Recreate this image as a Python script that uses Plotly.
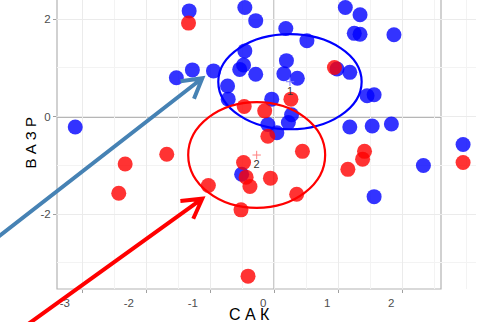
import math
import plotly.graph_objects as go

# ---------------- data ----------------
blue_x = [-1.33, -1.53, -1.28, -0.95, -0.46, -0.29, 0.18, 0.51, -0.46, -0.48, -0.54, -0.29, -0.73, -0.72,
          0.19, 0.15, 0.36, -0.04, 0.98, 1.18, 1.11, 1.34, 1.25, 1.34, 1.87, 1.45, 1.56, -3.11, 0.27,
          0.22, -0.10, 0.04, 1.18, 1.53, 1.83, 2.33, 1.56, 2.95, -0.51]
blue_y = [2.17, 0.80, 0.96, 0.94, 2.24, 1.97, 1.81, 1.56, 1.35, 1.06, 0.97, 0.87, 0.63, 0.36,
          1.15, 0.88, 0.79, 0.36, 0.98, 0.91, 2.24, 2.09, 1.71, 1.69, 1.68, 0.43, 0.45, -0.21, 0.04,
          -0.12, -0.16, -0.33, -0.21, -0.19, -0.15, -1.00, -1.64, -0.57, -1.18]
red_x = [-1.34, 0.94, 0.26, -0.47, -0.15, -0.10, -2.33, -1.68, -2.43, -1.03, 0.44, -0.48, -0.44, -0.38,
         -0.06, 0.35, -0.52, -0.41, 1.41, 1.38, 1.15, 2.95]
red_y = [1.92, 1.01, 0.36, 0.21, 0.12, -0.40, -0.97, -0.77, -1.57, -1.41, -0.71, -0.94, -1.24, -1.43,
         -1.26, -1.59, -1.91, -3.27, -0.71, -0.87, -1.08, -0.94]

cluster_labels = ["1", "2"]
cluster_cx = [0.245, -0.275]
cluster_cy = [0.718, -0.786]
cluster_rx = [1.12, 1.07]
cluster_ry = [0.975, 1.085]

x_ticks = [-3, -2, -1, 0, 1, 2]
y_ticks = [-2, 0, 2]
x_title = "С А К"
y_title = "В А З Р"

# arrows (tip and tail in data units)
arrow_blue = {"tip": (-1.125, 0.788), "tail": (-4.52, -2.677)}
arrow_red = {"tip": (-1.125, -1.682), "tail": (-3.975, -4.375)}

# ---------------- layout geometry ----------------
W, H = 481, 322
ML, MR, MT, MB = 57, 5, 0, 33
PW, PH = W - ML - MR, H - MT - MB
PX_PER_X = 64.0
X_LEFT = -3.395
X_PANEL_RIGHT = 2.605
XR = [X_LEFT, X_LEFT + PW / PX_PER_X]
YR = [-3.534, 2.394]
PANEL_R = (X_PANEL_RIGHT - XR[0]) / (XR[1] - XR[0])   # panel right edge in paper units


def to_px(x, y):
    px = (x - XR[0]) / (XR[1] - XR[0]) * PW
    py = (YR[1] - y) / (YR[1] - YR[0]) * PH
    return px, py


def px_to_paper(px, py):
    return px / PW, 1 - py / PH


def arrow_path(a):
    tx, ty = to_px(*a["tip"])
    sx, sy = to_px(*a["tail"])
    dx, dy = sx - tx, sy - ty
    L = math.hypot(dx, dy)
    ux, uy = dx / L, dy / L
    arms = []
    for s in (1, -1):
        c, sn = math.cos(math.radians(30)), math.sin(math.radians(30)) * s
        ax = ux * c - uy * sn
        ay = ux * sn + uy * c
        arms.append((tx + ax * 22, ty + ay * 22))
    pts = [px_to_paper(sx, sy), px_to_paper(tx, ty), px_to_paper(*arms[0]),
           px_to_paper(tx, ty), px_to_paper(*arms[1])]
    f = lambda p: f"{p[0]:.5f},{p[1]:.5f}"
    return f"M{f(pts[0])} L{f(pts[1])} M{f(pts[2])} L{f(pts[3])} L{f(pts[4])}"


fig = go.Figure()
fig.add_trace(go.Scatter(x=blue_x, y=blue_y, mode="markers", cliponaxis=False,
                         marker=dict(size=15, color="rgba(0,0,255,0.8)", line=dict(width=0)),
                         hoverinfo="skip"))
fig.add_trace(go.Scatter(x=red_x, y=red_y, mode="markers", cliponaxis=False,
                         marker=dict(size=15, color="rgba(255,0,0,0.8)", line=dict(width=0)),
                         hoverinfo="skip"))
fig.add_trace(go.Scatter(x=cluster_cx, y=cluster_cy, mode="markers+text", text=cluster_labels,
                         textposition="bottom center",
                         textfont=dict(size=11, color="#333333", family="Liberation Sans"),
                         marker=dict(symbol="cross-thin", size=6,
                                     line=dict(width=1, color=["#8080ff", "#ff8080"])),
                         hoverinfo="skip"))

shapes = []
# hide grid to the right of the panel
shapes.append(dict(type="rect", xref="paper", yref="paper", x0=PANEL_R, x1=1.05, y0=-0.01, y1=1.05,
                   fillcolor="white", line=dict(width=0), layer="between"))
# zero lines limited to the panel
shapes.append(dict(type="line", xref="paper", yref="y", x0=0, x1=PANEL_R, y0=0, y1=0,
                   line=dict(color="#6e6e6e", width=1.6), layer="between"))
shapes.append(dict(type="line", xref="x", yref="paper", x0=0, x1=0, y0=0, y1=1,
                   line=dict(color="#222222", width=1), layer="between"))
# panel border (top is out of view)
shapes.append(dict(type="rect", xref="paper", yref="paper", x0=0, x1=PANEL_R, y0=0, y1=1.3,
                   line=dict(color="#b3b3b3", width=1.2), layer="between"))
for cx, cy, rx, ry, col in zip(cluster_cx, cluster_cy, cluster_rx, cluster_ry, ["#0000ff", "#ff0000"]):
    shapes.append(dict(type="circle", xref="x", yref="y", x0=cx - rx, x1=cx + rx,
                       y0=cy - ry, y1=cy + ry, line=dict(color=col, width=2.2), layer="above"))
shapes.append(dict(type="path", xref="paper", yref="paper", path=arrow_path(arrow_blue),
                   line=dict(color="#4682b4", width=4), layer="above"))
shapes.append(dict(type="path", xref="paper", yref="paper", path=arrow_path(arrow_red),
                   line=dict(color="#ff0000", width=4), layer="above"))

tickfont = dict(family="Liberation Sans", size=11.5, color="#4d4d4d")
xt_text = [(str(v) + "\u00a0" * 4) if v < 0 else str(v) for v in x_ticks]

fig.update_layout(
    width=W, height=H, margin=dict(l=ML, r=MR, t=MT, b=MB),
    paper_bgcolor="white", plot_bgcolor="white", showlegend=False,
    shapes=shapes,
    xaxis=dict(range=XR, tickvals=x_ticks, ticktext=xt_text, tickfont=tickfont,
               ticklabelshift=-11, ticks="outside", ticklen=3, tickcolor="#a0a0a0",
               showgrid=True, gridcolor="#ebebeb", gridwidth=1,
               minor=dict(dtick=0.5, showgrid=True, gridcolor="#f3f3f3", gridwidth=1, ticks=""),
               zeroline=False, showline=False),
    yaxis=dict(range=YR, tickvals=y_ticks, ticktext=[str(v) for v in y_ticks], tickfont=tickfont,
               ticks="outside", ticklen=3, tickcolor="#a0a0a0",
               showgrid=True, gridcolor="#ebebeb", gridwidth=1,
               minor=dict(dtick=1, showgrid=True, gridcolor="#f3f3f3", gridwidth=1, ticks=""),
               zeroline=False, showline=False),
    annotations=[
        dict(text=x_title, xref="paper", yref="paper", x=(249.5 - ML) / PW, y=1 - 314 / PH,
             xanchor="center", yanchor="middle", showarrow=False,
             font=dict(family="Liberation Sans", size=16, color="#000000")),
        dict(text=y_title, xref="paper", yref="paper", x=(30 - ML) / PW, y=1 - 142.5 / PH,
             xanchor="center", yanchor="middle", showarrow=False, textangle=-90,
             font=dict(family="Liberation Sans", size=15, color="#000000")),
    ],
)

fig.write_html("out.html", config={"displayModeBar": False},
               post_script="document.body.style.margin='0';document.body.style.overflow='hidden';")
